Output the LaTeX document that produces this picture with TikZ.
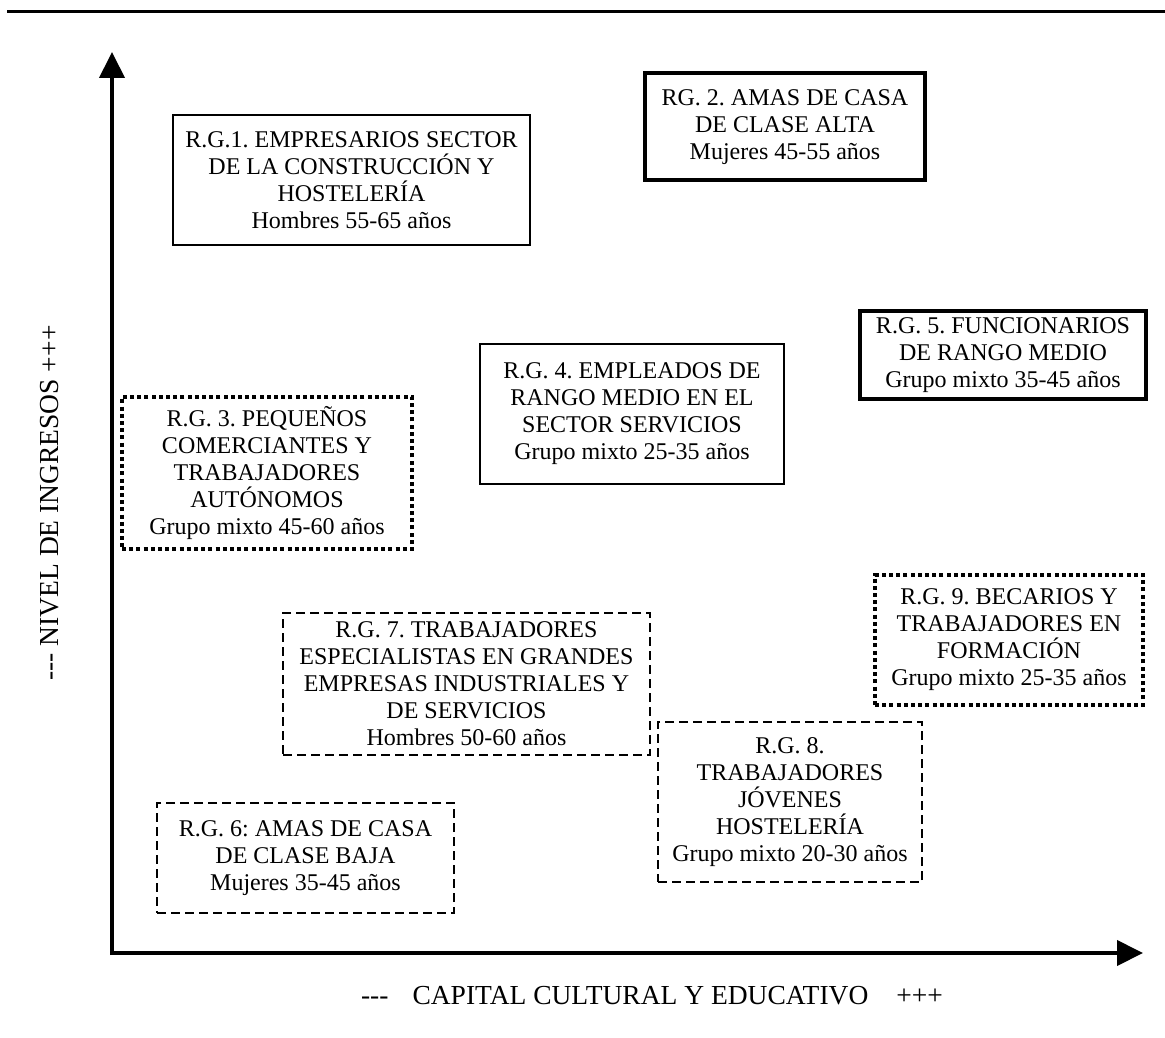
\documentclass[tikz,border=0pt]{standalone}
\usepackage{fontspec}
\setmainfont{Liberation Serif}
\usetikzlibrary{arrows.meta}

\begin{document}
\begin{tikzpicture}[x=1pt,y=-1pt,
	grupo/.style={draw,align=center,inner sep=0pt,font=\fontsize{24}{27}\selectfont\frenchspacing},
	fino/.style={grupo,line width=1.6pt},
	grueso/.style={grupo,line width=4pt},
	puntos/.style={grupo,line width=4pt,dash pattern=on 4pt off 3.2pt},
	rayas/.style={grupo,line width=2pt,dash pattern=on 9pt off 5pt},
	eje/.style={line width=4pt,-{Triangle[width=25pt,length=26pt]}}]

\useasboundingbox (0,0) rectangle (1165,1038);

\draw[line width=3pt] (7,12)--(1165,12);

% ejes
\coordinate (origen) at (112,953);
\coordinate (arriba) at (112,52);
\coordinate (derecha) at (1143,953);
\draw[eje] (origen|-0,955)--(arriba);
\draw[eje] (110,953)--(derecha);

\node[rotate=90,font=\fontsize{27.5}{32}\selectfont] (ingresos) at (50,503)
	{-{}-{}- NIVEL DE INGRESOS +++};
\node[font=\fontsize{27.5}{32}\selectfont] (capital) at (652,996)
	{-{}-{}-\hspace{24pt}CAPITAL CULTURAL Y EDUCATIVO\hspace{28pt}+++};

% grupos
\node[fino,minimum width=357pt,minimum height=130pt] (rg1) at (351.5,180)
	{R.G.1. EMPRESARIOS SECTOR\\DE LA CONSTRUCCIÓN Y\\HOSTELERÍA\\Hombres 55-65 años};
\node[grueso,minimum width=280pt,minimum height=107pt] (rg2) at (785,127)
	{RG. 2. AMAS DE CASA\\DE CLASE ALTA\\Mujeres 45-55 años};
\node[puntos,minimum width=290pt,minimum height=152pt] (rg3) at (267,473)
	{R.G. 3. PEQUEÑOS\\COMERCIANTES Y\\TRABAJADORES\\AUTÓNOMOS\\Grupo mixto 45-60 años};
\node[fino,minimum width=304pt,minimum height=140pt] (rg4) at (632,414)
	{R.G. 4. EMPLEADOS DE\\RANGO MEDIO EN EL\\SECTOR SERVICIOS\\Grupo mixto 25-35 años};
\node[grueso,minimum width=286pt,minimum height=88pt] (rg5) at (1003,355)
	{R.G. 5. FUNCIONARIOS\\DE RANGO MEDIO\\Grupo mixto 35-45 años};
\node[rayas,minimum width=297pt,minimum height=110pt] (rg6) at (305.5,858)
	{R.G. 6: AMAS DE CASA\\DE CLASE BAJA\\Mujeres 35-45 años};
\node[rayas,minimum width=367pt,minimum height=142pt] (rg7) at (466.5,684)
	{R.G. 7. TRABAJADORES\\ESPECIALISTAS EN GRANDES\\EMPRESAS INDUSTRIALES Y\\DE SERVICIOS\\Hombres 50-60 años};
\node[rayas,minimum width=264pt,minimum height=160pt] (rg8) at (790,802)
	{R.G. 8.\\TRABAJADORES\\JÓVENES\\HOSTELERÍA\\Grupo mixto 20-30 años};
\node[puntos,minimum width=268pt,minimum height=130pt] (rg9) at (1009,640)
	{R.G. 9. BECARIOS Y\\TRABAJADORES EN\\FORMACIÓN\\Grupo mixto 25-35 años};

\end{tikzpicture}
\end{document}
